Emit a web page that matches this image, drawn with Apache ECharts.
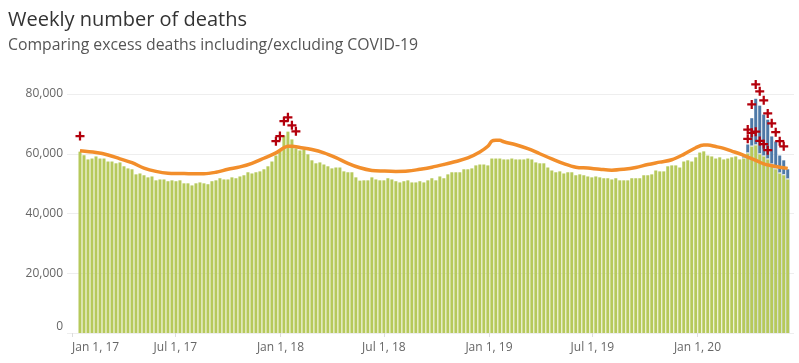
<!DOCTYPE html>
<html><head><meta charset="utf-8">
<script src="https://cdn.jsdelivr.net/npm/echarts@6/dist/echarts.min.js"></script>
<style>html,body{margin:0;padding:0;background:#fff}#c{width:799px;height:363px}</style>
</head><body><div id="c"></div>
<script>
// ---- data (thousands of deaths per week) ----
const firstWeek = [2017, 0, 15];   // date of the first weekly bar
const nonCovid = [
  60.7, 59.5, 58.1, 58.4, 59.1, 58.4, 58.4, 57.4, 57.4, 56.8, 57.1, 55.8, 55.1, 54.8, 53.1, 53.4, 52.8, 52.1, 52.4, 51.1, 51.4, 51.4, 50.8, 51.1, 50.8, 51.1, 50.1, 50.1, 49.4, 50.1, 50.4, 50.1, 49.8, 50.8, 51.1,
  51.8, 51.4, 51.4, 52.1, 51.8, 52.4, 52.8, 53.8, 53.4, 53.8, 54.1, 54.8, 55.8, 57.4, 59.4, 61.1, 66.1, 67.4, 64.8, 61.8, 61.1, 61.4, 59.8, 57.8, 56.8, 57.1, 56.4, 55.8, 55.1, 55.4, 55.4, 54.1, 53.8, 53.8, 52.1, 51.0,
  51.1, 51.1, 52.1, 51.4, 51.1, 51.1, 51.8, 51.4, 50.8, 50.4, 50.8, 51.1, 50.4, 50.4, 50.8, 50.4, 51.1, 51.8, 51.1, 52.4, 51.8, 53.1, 53.8, 53.8, 53.8, 54.8, 54.8, 55.1, 56.1, 56.4, 56.4, 56.1, 58.4, 58.4, 58.4, 58.1,
  58.1, 58.4, 58.1, 58.1, 58.1, 58.4, 58.1, 57.1, 56.8, 56.8, 55.4, 54.4, 53.8, 54.1, 53.4, 53.8, 53.8, 52.8, 53.1, 52.8, 52.4, 52.1, 52.4, 52.1, 51.8, 51.8, 51.4, 51.8, 51.1, 51.1, 51.1, 51.8, 51.8, 51.8, 52.8, 52.8,
  53.1, 54.4, 54.1, 54.1, 55.8, 56.1, 56.1, 55.4, 57.4, 57.8, 57.4, 58.8, 60.4, 60.8, 59.4, 59.1, 58.4, 58.8, 58.1, 58.4, 58.8, 59.1, 58.1, 58.4, 60.1, 62.4, 62.8, 59.8, 59.1, 58.1, 56.4, 54.8, 53.4, 52.8, 51.4
];
const covidFirstWeek = 167;       // week number (1-based) of first COVID-19 value
const covid = [0.7, 3.0, 9.5, 15.6, 16.3, 14.0, 13.3, 9.4, 9.3, 6.0, 5.0, 3.4];

const expectedWeeks = [1, 5, 8, 11, 14, 17, 20, 23, 26, 29, 32, 35, 38, 41, 44, 47, 50, 52, 53, 54, 56, 59, 62, 65, 68, 71, 74, 77, 80, 83, 86, 89, 92, 95, 98, 101, 103, 104, 105, 106, 107, 110, 113, 116, 119, 122, 125, 128, 131, 134, 137, 140, 143, 146, 149, 152, 155, 157, 158, 160, 162, 164, 166, 168, 170, 172, 174, 176, 178];
const expectedVals  = [61.0, 60.4, 59.6, 58.3, 57.0, 55.2, 54.1, 53.5, 53.4, 53.3, 53.3, 53.8, 54.8, 55.6, 56.8, 58.5, 60.3, 62.0, 62.5, 62.5, 62.1, 61.4, 60.3, 58.7, 56.8, 55.3, 54.4, 54.2, 54.1, 54.2, 54.8, 55.5, 56.4, 57.4, 58.6, 60.6, 62.5, 64.2, 64.5, 64.5, 64.0, 63.0, 61.7, 60.0, 58.3, 56.7, 55.5, 55.2, 54.8, 54.5, 54.8, 55.4, 56.4, 57.2, 58.0, 59.8, 62.0, 62.9, 62.9, 62.4, 61.8, 60.9, 60.0, 58.9, 57.8, 56.6, 56.0, 55.5, 55.1];

const markIncWeeks = [1, 50, 51, 52, 53, 54, 55, 168, 169, 170, 171, 172, 173, 174, 175, 176, 177];
const markIncVals  = [65.9, 64.2, 65.9, 70.9, 72.2, 69.5, 67.5, 68.1, 76.5, 83.2, 80.9, 77.9, 73.5, 70.2, 67.2, 64.2, 62.5];
const markExcWeeks = [168, 169, 170, 171, 172, 173];
const markExcVals  = [65.0, 67.0, 67.4, 64.3, 63.2, 61.2];

const tickDates  = [[2017,0,1],[2017,6,1],[2018,0,1],[2018,6,1],[2019,0,1],[2019,6,1],[2020,0,1]];
const tickLabels = ['Jan 1, 17','Jul 1, 17','Jan 1, 18','Jul 1, 18','Jan 1, 19','Jul 1, 19','Jan 1, 20'];

// ---- build ----
const DAY = 86400000;
const t0 = Date.UTC(firstWeek[0], firstWeek[1], firstWeek[2]);
const wk = n => t0 + (n - 1) * 7 * DAY;
const K = v => Math.round(v * 1000);
const covidAt = i => { const j = i + 1 - covidFirstWeek; return j >= 0 && j < covid.length ? covid[j] : 0; };
const greenData = nonCovid.map((v, i) => [wk(i + 1), K(v)]);
const totalData = nonCovid.map((v, i) => [wk(i + 1), covidAt(i) > 0 ? K(v + covidAt(i)) : 0]);
const sepData = nonCovid.map((v, i) => [wk(i + 1), covidAt(i) > 0 ? K(v) + 350 : 0]);
const lineData = expectedWeeks.map((w, i) => [wk(w), K(expectedVals[i])]);
const incData = markIncWeeks.map((w, i) => [wk(w), K(markIncVals[i])]);
const excData = markExcWeeks.map((w, i) => [wk(w), K(markExcVals[i])]);
const tickTs = tickDates.map(d => Date.UTC(d[0], d[1], d[2]));

const plus = 'path://M3,0H5V3H8V5H5V8H3V5H0V3H3Z';
const FONT = 'Open Sans';
const chart = echarts.init(document.getElementById('c'), null, {renderer: 'canvas'});
chart.setOption({
  animation: false,
  backgroundColor: '#fff',
  title: {
    text: 'Weekly number of deaths',
    subtext: 'Comparing excess deaths including/excluding COVID-19',
    left: 3, top: 5, itemGap: 7,
    textStyle: {fontFamily: FONT, fontSize: 20, fontWeight: 'normal', color: '#333'},
    subtextStyle: {fontFamily: FONT, fontSize: 15.8, color: '#555'}
  },
  grid: {left: 72, right: 5, top: 94, bottom: 30, containLabel: false},
  xAxis: {
    type: 'value',
    min: Date.UTC(2017, 0, 1),
    max: Date.UTC(2020, 5, 18),
    axisLine: {show: false},
    axisTick: {show: true, customValues: tickTs, length: 4, lineStyle: {color: '#ddd'}},
    splitLine: {show: false},
    axisLabel: {
      customValues: tickTs,
      alignMinLabel: 'left',
      margin: 9,
      fontFamily: FONT, fontSize: 12, color: '#666',
      formatter: v => { const i = tickTs.indexOf(+v); return i >= 0 ? tickLabels[i] : ''; }
    }
  },
  yAxis: {
    type: 'value', min: 0, max: 80000, interval: 20000,
    axisLine: {show: false},
    axisTick: {show: true, length: 5, lineStyle: {color: '#eee'}},
    splitLine: {lineStyle: {color: '#eee'}},
    axisLabel: {
      margin: 9, fontFamily: FONT, fontSize: 12, color: '#666',
      verticalAlignMinLabel: 'bottom',
      formatter: v => v.toLocaleString('en-US')
    }
  },
  series: [
    {name: 'Including COVID-19', type: 'bar', data: totalData, barWidth: 3, barGap: '-100%',
     itemStyle: {color: '#4e79a7'}},
    {name: 'sep', type: 'bar', data: sepData, barWidth: 3, barGap: '-100%', silent: true,
     itemStyle: {color: '#ffffff'}},
    {name: 'Excluding COVID-19', type: 'bar', data: greenData, barWidth: 3, barGap: '-100%',
     itemStyle: {color: '#b6c95b'}},
    {name: 'Expected', type: 'line', data: lineData, smooth: 0.35, symbol: 'none', z: 5,
     lineStyle: {color: '#f28e2b', width: 3.5}},
    {name: 'Excess excl.', type: 'scatter', data: excData, symbol: plus, symbolSize: 9, z: 6, clip: false,
     itemStyle: {color: '#b3000c', opacity: 1}},
    {name: 'Excess incl.', type: 'scatter', data: incData, symbol: plus, symbolSize: 9, z: 6, clip: false,
     itemStyle: {color: '#b3000c', opacity: 1}}
  ]
});
</script></body></html>
